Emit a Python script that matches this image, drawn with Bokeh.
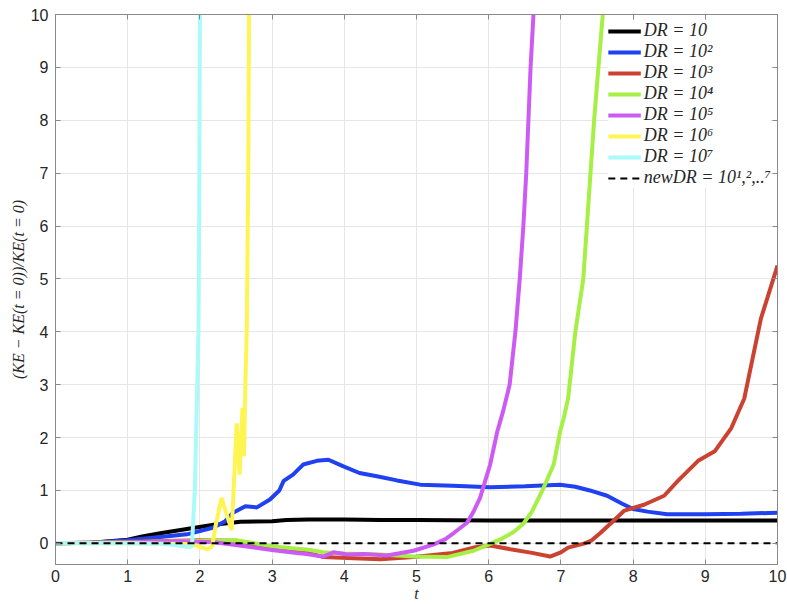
from bokeh.plotting import figure
from bokeh.models import (Range1d, FixedTicker, LinearAxis, Legend, LegendItem,
                          CustomJSTickFormatter)
from bokeh.embed import file_html
from bokeh.resources import INLINE

# ---------------- data ----------------
x_ticks = [0, 1, 2, 3, 4, 5, 6, 7, 8, 9, 10]
y_ticks = [0, 1, 2, 3, 4, 5, 6, 7, 8, 9, 10]

labels = ["DR = 10", "DR = 10²", "DR = 10³", "DR = 10⁴", "DR = 10⁵",
          "DR = 10⁶", "DR = 10⁷", "newDR = 10¹,²,..⁷"]
colors = ["#000000", "#2041f0", "#cb4231", "#a6ef45", "#cc5af5",
          "#fff552", "#aafafa"]

t_dr1 = [0, 0.5, 1.0, 1.2, 1.45, 1.82, 2.19, 2.56, 3.0, 3.2, 3.5, 4.0, 4.5,
         5.0, 6.0, 7.0, 8.0, 9.0, 10.0]
v_dr1 = [0, 0.01, 0.07, 0.13, 0.19, 0.27, 0.35, 0.41, 0.42, 0.44, 0.45, 0.45,
         0.44, 0.44, 0.43, 0.43, 0.43, 0.43, 0.43]

t_dr2 = [0, 0.5, 1.0, 1.45, 1.82, 2.19, 2.35, 2.46, 2.63, 2.79, 2.97, 3.1,
         3.16, 3.29, 3.43, 3.62, 3.78, 3.98, 4.21, 4.45, 4.73, 5.05, 5.5,
         6.02, 6.5, 6.99, 7.2, 7.4, 7.64, 7.85, 8.0, 8.2, 8.47, 9.0, 9.5, 10.0]
v_dr2 = [0, 0.01, 0.06, 0.12, 0.17, 0.3, 0.42, 0.58, 0.7, 0.68, 0.83, 1.0,
         1.18, 1.3, 1.49, 1.56, 1.58, 1.46, 1.33, 1.27, 1.19, 1.11, 1.09,
         1.06, 1.08, 1.11, 1.07, 1.0, 0.9, 0.75, 0.65, 0.6, 0.55, 0.55, 0.56,
         0.58]

t_dr3 = [0, 1.0, 2.0, 2.5, 3.0, 3.5, 3.71, 4.13, 4.5, 4.96, 5.5, 5.79, 6.02,
         6.3, 6.6, 6.85, 7.0, 7.1, 7.33, 7.42, 7.55, 7.7, 7.88, 8.15, 8.43,
         8.62, 8.9, 9.13, 9.36, 9.54, 9.77, 10.0]
v_dr3 = [0, 0.03, 0.06, 0.05, -0.09, -0.18, -0.26, -0.28, -0.30, -0.26,
         -0.18, -0.08, -0.04, -0.11, -0.18, -0.25, -0.17, -0.08, 0.0, 0.05,
         0.2, 0.39, 0.62, 0.73, 0.9, 1.18, 1.56, 1.74, 2.18, 2.74, 4.25, 5.25]

t_dr4 = [0, 1.0, 2.0, 2.5, 3.02, 3.5, 3.71, 4.0, 4.5, 4.96, 5.42, 5.79, 6.02,
         6.2, 6.35, 6.48, 6.6, 6.76, 6.9, 6.99, 7.04, 7.1, 7.2, 7.31, 7.36,
         7.41, 7.46, 7.52, 7.58, 7.62]
v_dr4 = [0, 0.02, 0.05, 0.06, -0.06, -0.12, -0.17, -0.19, -0.21, -0.25,
         -0.26, -0.14, -0.01, 0.1, 0.22, 0.37, 0.6, 1.05, 1.49, 2.12, 2.37,
         2.74, 4.0, 5.0, 6.0, 7.0, 8.0, 9.0, 10.0, 10.6]

t_dr5 = [0, 1.0, 1.72, 2.2, 2.6, 3.02, 3.4, 3.71, 3.85, 4.04, 4.27, 4.59,
         4.96, 5.24, 5.4, 5.52, 5.7, 5.79, 5.88, 6.02, 6.12, 6.2, 6.29, 6.37,
         6.43, 6.48, 6.52, 6.55, 6.58, 6.62, 6.65]
v_dr5 = [0, 0.02, 0.04, 0.02, -0.05, -0.13, -0.19, -0.25, -0.17, -0.21,
         -0.2, -0.23, -0.14, -0.02, 0.08, 0.2, 0.39, 0.6, 0.86, 1.49, 2.12,
         2.5, 3.0, 4.0, 5.0, 6.0, 7.0, 8.0, 9.0, 10.0, 10.6]

t_dr6 = [0, 1.0, 1.8, 1.95, 2.0, 2.11, 2.17, 2.22, 2.30, 2.37, 2.44, 2.51,
         2.55, 2.59, 2.61, 2.63, 2.65, 2.67, 2.68, 2.69]
v_dr6 = [0, 0, -0.01, -0.04, -0.07, -0.11, -0.06, 0.35, 0.86, 0.55, 0.25,
         2.27, 1.3, 2.56, 1.65, 3.0, 4.1, 7.0, 10.0, 10.6]

t_dr7 = [0, 1.0, 1.5, 1.7, 1.8, 1.87, 1.89, 1.91, 1.93, 1.955, 1.98, 1.99,
         2.0, 2.005]
v_dr7 = [0, 0, -0.01, -0.04, -0.06, -0.07, -0.04, 0.5, 1.0, 2.5, 4.0, 6.0,
         10.0, 10.6]

t_new = [0, 10]
v_new = [0, 0]

series_t = [t_dr1, t_dr2, t_dr3, t_dr4, t_dr5, t_dr6, t_dr7]
series_v = [v_dr1, v_dr2, v_dr3, v_dr4, v_dr5, v_dr6, v_dr7]

# ---------------- figure ----------------
AX = "#8a8a8a"
TXT = "#262626"

p = figure(width=787, height=604, x_range=Range1d(0, 10),
           y_range=Range1d(-0.4, 10), output_backend="svg",
           toolbar_location=None, min_border_left=55, min_border_right=10,
           min_border_top=14, min_border_bottom=37)
p.background_fill_color = "white"
p.outline_line_color = AX

renderers = []
for tt, vv, c in zip(series_t, series_v, colors):
    r = p.line(tt, vv, line_color=c, line_width=4)
    renderers.append(r)
rn = p.line(t_new, v_new, line_color="black", line_width=2, line_dash="7 5")
renderers.append(rn)

for ax in (p.xaxis[0], p.yaxis[0]):
    ax.major_tick_in = 5
    ax.major_tick_out = 0
    ax.minor_tick_line_color = None
    ax.axis_line_color = AX
    ax.major_tick_line_color = AX
    ax.major_label_text_font = "Liberation Sans"
    ax.major_label_text_font_size = "16px"
    ax.major_label_text_color = TXT
    ax.axis_label_text_font = "Liberation Serif"
    ax.axis_label_text_font_style = "italic"
    ax.axis_label_text_font_size = "16px"
    ax.axis_label_text_color = TXT

p.xaxis[0].ticker = FixedTicker(ticks=x_ticks)
p.yaxis[0].ticker = FixedTicker(ticks=y_ticks)
p.xaxis[0].axis_label = "t"
p.yaxis[0].axis_label = "(KE − KE(t = 0))/KE(t = 0)"
p.xaxis[0].major_label_standoff = 5
p.xaxis[0].axis_label_standoff = 0
p.yaxis[0].major_label_standoff = 7
p.yaxis[0].axis_label_standoff = 1

# box ticks on top and right
blank = CustomJSTickFormatter(code="return ''")
top = LinearAxis(ticker=FixedTicker(ticks=x_ticks), formatter=blank)
right = LinearAxis(ticker=FixedTicker(ticks=y_ticks), formatter=blank)
for ax in (top, right):
    ax.major_tick_in = 5
    ax.major_tick_out = 0
    ax.minor_tick_line_color = None
    ax.axis_line_color = AX
    ax.major_tick_line_color = AX
    ax.major_label_standoff = 0
    ax.major_label_text_font_size = "0px"
p.add_layout(top, "above")
p.add_layout(right, "right")

p.xgrid.grid_line_color = "#e6e6e6"
p.ygrid.grid_line_color = "#e6e6e6"
p.xgrid.ticker = FixedTicker(ticks=x_ticks)
p.ygrid.ticker = FixedTicker(ticks=y_ticks)

legend = Legend(items=[LegendItem(label=l, renderers=[r])
                       for l, r in zip(labels, renderers)],
                location="top_right")
legend.label_text_font = "Liberation Serif"
legend.label_text_font_style = "italic"
legend.label_text_font_size = "18px"
legend.label_text_color = TXT
legend.glyph_width = 33
legend.glyph_height = 20
legend.label_height = 20
legend.label_standoff = 3
legend.spacing = 0
legend.padding = 4
legend.margin = 6
legend.border_line_color = None
legend.background_fill_color = "white"
legend.background_fill_alpha = 1.0
p.add_layout(legend)

open("out.html", "w").write(file_html(p, INLINE))
